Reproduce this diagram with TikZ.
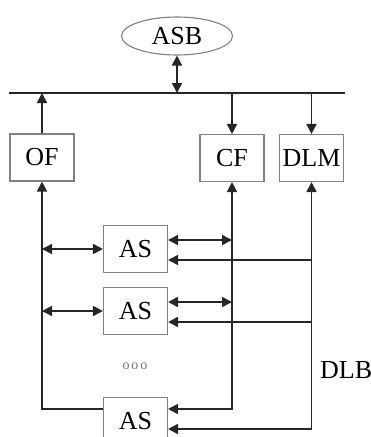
\documentclass[tikz,border=0pt]{standalone}
\usepackage{fontspec}
\setmainfont{Liberation Serif}
\usetikzlibrary{positioning,arrows.meta,shapes.geometric,calc}

\begin{document}
\begin{tikzpicture}[x=1pt, y=-1pt, font=\fontsize{26}{28}\selectfont,
  unit/.style={draw=black!50, line width=1.1pt, minimum width=64pt,
               minimum height=47pt, inner sep=0pt},
  link/.style={line width=1.8pt, draw=black!85, -{Triangle[length=10pt,width=10pt]}},
  dlink/.style={link, {Triangle[length=10pt,width=10pt]}-{Triangle[length=10pt,width=10pt]}}]
\useasboundingbox (0,0) rectangle (371,437);
\clip (0,0) rectangle (371,437);

% supervisor and bus
\node[ellipse, draw=black!50, line width=1.1pt, minimum width=111pt,
      minimum height=38pt, inner sep=0pt] (asb) at (177,36) {ASB};
\coordinate (busL) at (9,93);
\coordinate (busR) at (345,93);
\draw[line width=1.8pt, black!85] (busL) -- (busR);

% function blocks
\node[unit] (of)  at (42,157.5)  {OF};
\node[unit] (cf)  at (232,158)   {CF};
\node[unit] (dlm) at (311.5,158) {DLM};

\draw[dlink] (asb.south) -- (asb.south |- busL);
\draw[link] (of.north) -- (of.north |- busL);
\draw[link] (cf.north |- busL) -- (cf.north);
\draw[link] (dlm.north |- busL) -- (dlm.north);

% agents
\node[unit] (as1) at (135.5,249) {AS};
\node[unit] (as2) at (135.5,311) {AS};
\node[unit] (as3) at (135.5,421) {AS};
\node[text=black!55, font=\fontsize{14}{14}\selectfont] (dots) at (135,366)
  {o\hspace{2pt}o\hspace{2pt}o};
\node[anchor=west, inner sep=0pt] (dlb) at (320,370) {DLB};

\foreach \a in {as1,as2} {
  \draw[dlink] (\a.west -| of.south) -- (\a.west);
  \draw[dlink] ([yshift=9pt]\a.east) -- ([yshift=9pt]\a.east -| cf.south);
  \draw[link] ([yshift=-11pt]\a.east -| dlm.south) -- ([yshift=-11pt]\a.east);
}

% return lines
\draw[link] ([yshift=12pt]as3.west) -| (of.south);
\draw[dlink] (cf.south) |- ([yshift=12pt]as3.east);
\draw[dlink] (dlm.south) |- ([yshift=-8pt]as3.east);
\end{tikzpicture}
\end{document}
